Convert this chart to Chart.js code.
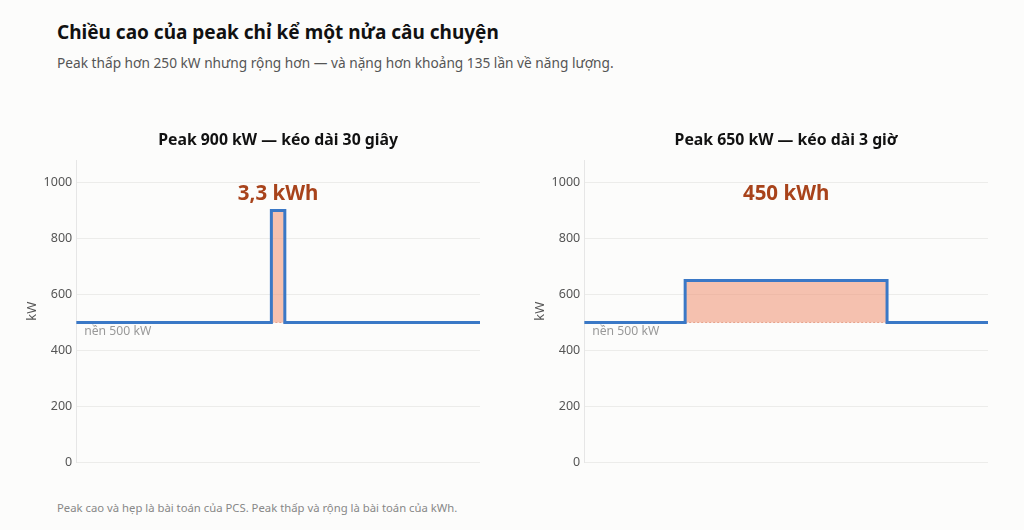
<!DOCTYPE html>
<html>
<head>
<meta charset="utf-8">
<script src="https://cdn.jsdelivr.net/npm/chart.js@4/dist/chart.umd.min.js"></script>
<style>
  body { margin: 0; background: #fcfcfb; font-family: "Noto Sans", sans-serif; }
  #page { position: relative; width: 1024px; height: 530px; overflow: hidden; }
  h1 { position: absolute; left: 57px; top: 19px; margin: 0; font-size: 19px; font-weight: 700; color: #111; }
  .sub { position: absolute; left: 57px; top: 53px; margin: 0; font-size: 13.7px; color: #555; }
  .foot { position: absolute; left: 57px; top: 500px; margin: 0; font-size: 11.3px; color: #888; }
  .box { position: absolute; top: 120px; width: 466px; height: 354px; }
</style>
</head>
<body>
<div id="page">
  <h1>Chiều cao của peak chỉ kể một nửa câu chuyện</h1>
  <p class="sub">Peak thấp hơn 250 kW nhưng rộng hơn — và nặng hơn khoảng 135 lần về năng lượng.</p>
  <div class="box" style="left:24px"><canvas id="leftChart"></canvas></div>
  <div class="box" style="left:532px"><canvas id="rightChart"></canvas></div>
  <p class="foot">Peak cao và hẹp là bài toán của PCS. Peak thấp và rộng là bài toán của kWh.</p>
</div>
<script>
const yTicks = [0, 200, 400, 600, 800, 1000];
const baseLoad = 500;

const leftTitle = 'Peak 900 kW — kéo dài 30 giây';
const leftX = [0, 29, 29, 31, 31, 60];
const leftY = [500, 500, 900, 900, 500, 500];
const leftLabel = '3,3 kWh';

const rightTitle = 'Peak 650 kW — kéo dài 3 giờ';
const rightX = [0, 15, 15, 45, 45, 60];
const rightY = [500, 500, 650, 650, 500, 500];
const rightLabel = '450 kWh';

const baseNote = 'nền 500 kW';

// title centred over the plot, energy label and baseline note
const notes = {
    id: 'notes',
    afterDraw(chart, args, opts) {
        const { ctx, chartArea, scales } = chart;
        ctx.save();
        ctx.textBaseline = 'middle';
        ctx.textAlign = 'center';
        ctx.fillStyle = '#111';
        ctx.font = 'bold 15.8px "Noto Sans"';
        ctx.fillText(opts.title, (chartArea.left + chartArea.right) / 2, 20);

        ctx.fillStyle = '#a8431b';
        ctx.font = 'bold 20.5px "Noto Sans"';
        ctx.fillText(opts.label, scales.x.getPixelForValue(30), scales.y.getPixelForValue(958));

        ctx.textAlign = 'left';
        ctx.fillStyle = '#999';
        ctx.font = '12.2px "Noto Sans"';
        ctx.fillText(baseNote, chartArea.left + 8, scales.y.getPixelForValue(467));
        ctx.restore();
    }
};

function makeChart(id, xs, ys, title, label) {
    const pts = xs.map((x, i) => ({ x: x, y: ys[i] }));
    const peak = pts.slice(1, 5).map(p => ({ x: p.x, y: baseLoad }));
    return new Chart(document.getElementById(id), {
        type: 'line',
        data: {
            datasets: [{
                data: pts,
                borderColor: '#3a78c6',
                borderWidth: 3,
                backgroundColor: 'rgba(240,150,120,0.58)',
                fill: { value: baseLoad },
                pointRadius: 0,
                tension: 0,
                order: 1
            }, {
                data: peak,
                borderColor: 'rgba(215,130,100,0.7)',
                borderWidth: 1,
                borderDash: [2, 2],
                pointRadius: 0,
                fill: false,
                order: 2
            }]
        },
        options: {
            responsive: true,
            maintainAspectRatio: false,
            animation: false,
            layout: { padding: { top: 40, right: 10, bottom: 9, left: 0 } },
            plugins: {
                legend: { display: false },
                tooltip: { enabled: false },
                notes: { title: title, label: label }
            },
            scales: {
                x: { type: 'linear', min: 0, max: 60, display: false },
                y: {
                    min: 0,
                    max: 1080,
                    afterBuildTicks: axis => { axis.ticks = yTicks.map(v => ({ value: v })); },
                    border: { color: '#e6e6e6' },
                    grid: { color: '#ececea', drawTicks: false },
                    ticks: {
                        color: '#555',
                        font: { size: 12.5, family: 'Noto Sans' },
                        padding: 4,
                        callback: v => String(v)
                    },
                    title: {
                        display: true, text: 'kW', color: '#555',
                        font: { size: 13, family: 'Noto Sans' },
                        padding: { top: 0, bottom: 0 }
                    }
                }
            }
        },
        plugins: [notes]
    });
}

makeChart('leftChart', leftX, leftY, leftTitle, leftLabel);
makeChart('rightChart', rightX, rightY, rightTitle, rightLabel);
</script>
</body>
</html>
